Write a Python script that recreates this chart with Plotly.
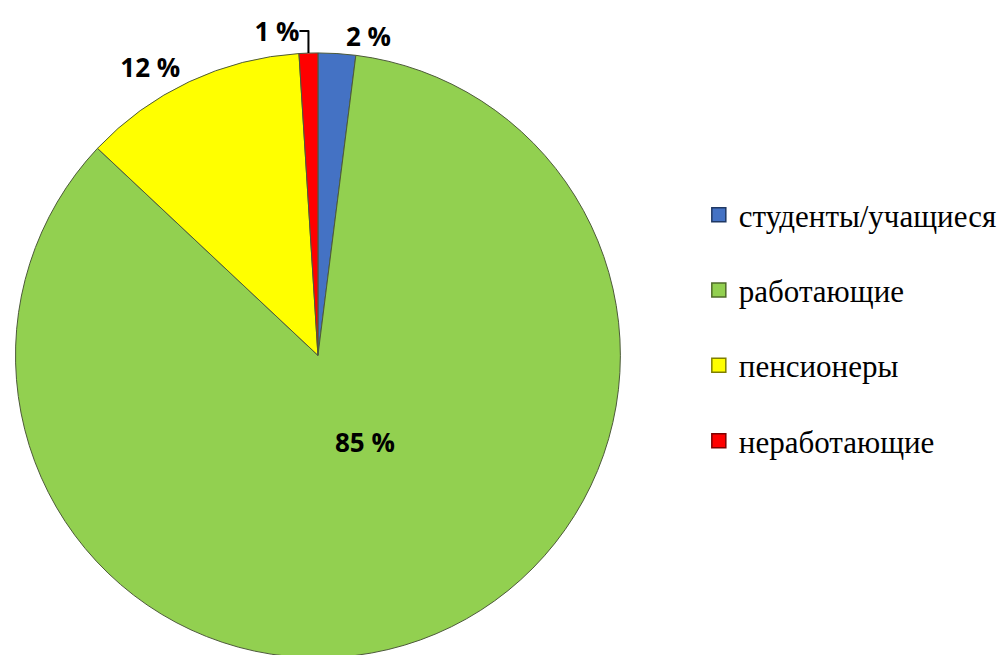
import plotly.graph_objects as go

categories = ["студенты/учащиеся", "работающие", "пенсионеры", "неработающие"]
values = [2, 85, 12, 1]
colors = ["#4472C4", "#92D050", "#FFFF00", "#FF0000"]
edge_colors = ["#1F3864", "#4F6B28", "#7F7F00", "#7F0000"]
text_positions = ["outside", "none", "outside", "outside"]

label_font = dict(family="Open Sans", size=26, color="black", weight="bold")

fig = go.Figure()
fig.add_trace(go.Pie(
    labels=categories,
    values=values,
    sort=False,
    direction="clockwise",
    rotation=0,
    marker=dict(colors=colors, line=dict(color="#4d5a3a", width=1)),
    texttemplate="%{value} %",
    textposition=text_positions,
    textfont=label_font,
    outsidetextfont=label_font,
    showlegend=False,
    hoverinfo="label+percent",
    domain=dict(x=[0.0, 0.6085], y=[0.008, 0.94]),
))

# label for the large slice, placed nearer the centre as in the original
fig.add_annotation(
    x=0.3517, y=0.3405, xref="paper", yref="paper", xanchor="center", yanchor="middle",
    text=f"{values[1]} %", showarrow=False, font=label_font,
)

for name, c, ec in zip(categories, colors, edge_colors):
    fig.add_trace(go.Scatter(
        x=[None], y=[None], mode="markers", name=name, legendgroup=name,
        marker=dict(symbol="square", size=14, color=c, line=dict(color=ec, width=1.5)),
    ))

fig.update_layout(
    width=1005, height=655,
    margin=dict(l=0, r=0, t=0, b=0),
    paper_bgcolor="white", plot_bgcolor="white",
    xaxis=dict(visible=False), yaxis=dict(visible=False),
    legend=dict(
        x=0.6855, y=0.516, xanchor="left", yanchor="middle",
        font=dict(family="Liberation Serif", size=31, color="black"),
        tracegroupgap=32, itemwidth=30,
        bgcolor="rgba(0,0,0,0)",
    ),
)

fig.write_html("out.html")
